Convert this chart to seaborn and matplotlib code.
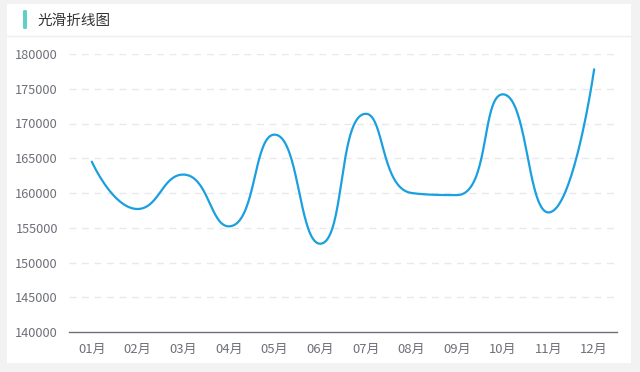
import numpy as np
import pandas as pd
import matplotlib
matplotlib.use("Agg")
import matplotlib.pyplot as plt
from matplotlib.patches import Rectangle, FancyBboxPatch
from matplotlib.lines import Line2D
import seaborn as sns

# ---- data ----
months = ["01月", "02月", "03月", "04月", "05月", "06月",
          "07月", "08月", "09月", "10月", "11月", "12月"]
values = [164500, 157700, 162650, 155200, 168400, 152700,
          171400, 160000, 159700, 174200, 157200, 177800]
y_ticks = [140000, 145000, 150000, 155000, 160000, 165000, 170000, 175000, 180000]
title = "光滑折线图"

sns.set_theme(style="white")
plt.rcParams['font.family'] = ['Noto Sans CJK SC', 'DejaVu Sans']

W, H = 640, 372
fig = plt.figure(figsize=(W / 100, H / 100), dpi=100)
fig.patch.set_facecolor("#f2f2f2")

def px(x, y):
    return x / W, 1 - y / H

# white card
fig.patches.append(Rectangle(px(7, 363), 624 / W, 359 / H, transform=fig.transFigure,
                             facecolor="white", edgecolor="none", zorder=-10))
# header separator
fig.lines.append(Line2D([7 / W, 631 / W], [1 - 36 / H] * 2, transform=fig.transFigure,
                        color="#eeeeee", lw=1.0, zorder=-5))
# teal marker bar
fig.patches.append(FancyBboxPatch(px(23, 29), 4 / W, 19 / H, transform=fig.transFigure,
                                  boxstyle="round,pad=0,rounding_size=0.003",
                                  facecolor="#5cd1c4", edgecolor="none", zorder=2))
fig.text(37 / W, 1 - 21 / H, title, fontsize=10.5, color="#333333",
         va="center", ha="left")

left, right, top, bottom = 69, 617, 54, 332
ax = fig.add_axes([left / W, 1 - bottom / H, (right - left) / W, (bottom - top) / H])
ax.set_zorder(5)
ax.set_facecolor("none")
n = len(months)
xs = np.arange(n)
ax.set_xlim(-0.5, n - 0.5)
ax.set_ylim(y_ticks[0], y_ticks[-1])

# grid
ax.set_yticks(y_ticks)
ax.set_yticklabels([str(v) for v in y_ticks])
for v in y_ticks[1:]:
    ax.axhline(v, color="#e9e9e9", lw=1.0, ls=(0, (5, 4)), zorder=0)

# echarts5-like constrained smooth bezier, computed in pixel space
pts = ax.transData.transform(np.column_stack([xs, values]))
smooth = 0.5
curve = [pts[0]]
cpx0, cpy0 = pts[0]
t = np.linspace(0, 1, 40)[1:, None]
for i in range(1, n):
    x, y = pts[i]
    prevX, prevY = pts[i - 1]
    if i < n - 1:
        nextX, nextY = pts[i + 1]
        vx, vy = nextX - prevX, nextY - prevY
        dx0, dy0 = x - prevX, y - prevY
        dx1, dy1 = nextX - x, nextY - y
        l0 = np.hypot(dx0, dy0)
        l1 = np.hypot(dx1, dy1)
        r = l1 / (l0 + l1)
        ncx1 = x + vx * smooth * r
        ncy1 = y + vy * smooth * r
        ncx1 = min(ncx1, max(nextX, x)); ncy1 = min(ncy1, max(nextY, y))
        ncx1 = max(ncx1, min(nextX, x)); ncy1 = max(ncy1, min(nextY, y))
        vx, vy = ncx1 - x, ncy1 - y
        ncx0 = x - vx * l0 / l1
        ncy0 = y - vy * l0 / l1
        ncx0 = min(ncx0, max(prevX, x)); ncy0 = min(ncy0, max(prevY, y))
        ncx0 = max(ncx0, min(prevX, x)); ncy0 = max(ncy0, min(prevY, y))
        vx, vy = x - ncx0, y - ncy0
        ncx1 = x + vx * l1 / l0
        ncy1 = y + vy * l1 / l0
    else:
        ncx0, ncy0 = x, y
        ncx1, ncy1 = x, y
    P0 = np.array([prevX, prevY]); C0 = np.array([cpx0, cpy0])
    C1 = np.array([ncx0, ncy0]); P1 = np.array([x, y])
    seg = (1 - t) ** 3 * P0 + 3 * (1 - t) ** 2 * t * C0 + 3 * (1 - t) * t ** 2 * C1 + t ** 3 * P1
    curve.extend(seg)
    cpx0, cpy0 = ncx1, ncy1
curve = ax.transData.inverted().transform(np.array(curve))
df = pd.DataFrame({"x": curve[:, 0], "y": curve[:, 1]})
sns.lineplot(data=df, x="x", y="y", sort=False, estimator=None, ax=ax,
             color="#1a9fe0", lw=1.6, zorder=3)

# axes styling
for s in ["left", "right", "top"]:
    ax.spines[s].set_visible(False)
ax.spines["bottom"].set_color("#6e7079")
ax.spines["bottom"].set_linewidth(1.0)
ax.set_xticks(xs)
ax.set_xticklabels(months)
ax.set_xticks(np.arange(-0.5, n, 1.0), minor=True)
ax.tick_params(axis="x", which="major", length=0, pad=8, labelsize=9.4, labelcolor="#6e7079")
ax.tick_params(axis="x", which="minor", length=4, width=1.0, color="#6e7079", direction="out")
ax.tick_params(axis="y", length=0, pad=8, labelsize=9.2, labelcolor="#6e7079")
ax.set_xlabel("")
ax.set_ylabel("")
ax.grid(False)

fig.savefig("out.png", dpi=100, facecolor=fig.get_facecolor())
